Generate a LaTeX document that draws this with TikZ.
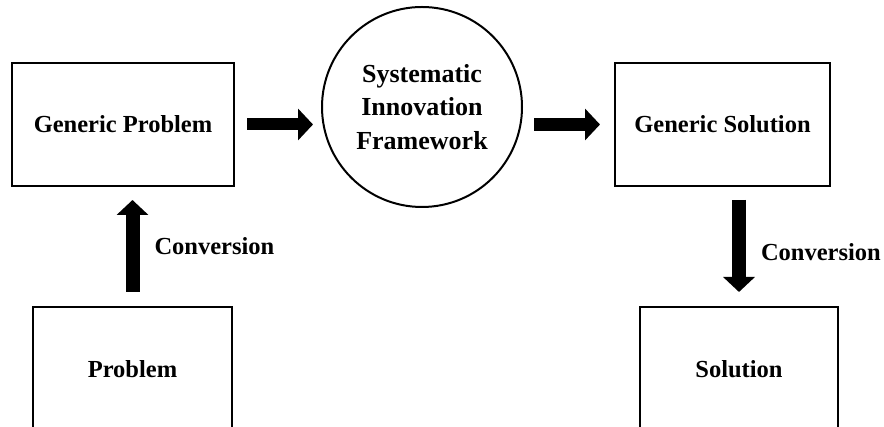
\documentclass[tikz,border=0pt]{standalone}
\usepackage{fontspec}
\setmainfont{Liberation Serif}
\usetikzlibrary{arrows.meta}

\tikzset{
  box/.style={draw, line width=2pt, minimum width=#1, minimum height=123pt, inner sep=0pt,
    font=\fontsize{24.5}{29}\selectfont\bfseries},
  hub/.style={draw, circle, line width=2pt, minimum size=200pt, inner sep=0pt, align=center,
    font=\fontsize{26}{33.5}\selectfont\bfseries},
  flow/.style={line width=#1, -{Triangle[length=15pt,width=31pt]}},
  lbl/.style={inner sep=0pt, outer sep=0pt, anchor=west, font=\fontsize{24.5}{29}\selectfont\bfseries}
}

\begin{document}
\begin{tikzpicture}[x=1pt,y=1pt]
    \clip (0,0) rectangle (884,427);
    \fill[white] (0,0) rectangle (884,427);
    % Boxes
    \node[box=222pt] (gp) at (123,302.5) {Generic Problem};
    \node[hub] (sif) at (422,320) {Systematic\\Innovation\\Framework};
    \node[box=215pt] (gs) at (722.5,302.5) {Generic Solution};
    \node[box=199pt, minimum height=124pt] (prob) at (132.5,58) {Problem};
    \node[box=198pt, minimum height=124pt] (sol) at (739,58) {Solution};
    % Arrows
    \draw[flow=12pt, shorten <=12pt, shorten >=8pt] (gp.east) -- (gp.east -| sif.west);
    \draw[flow=13pt, shorten <=11pt, shorten >=14pt] (sif.east |- gs.west) -- (gs.west);
    \draw[flow=14pt, shorten <=14pt, shorten >=13pt] (prob.north) -- (prob.north |- gp.south)
      node[lbl, midway, xshift=22pt] (conv1) {Conversion};
    \draw[flow=14pt, shorten <=13pt, shorten >=14pt] (gs.south -| sol.north) -- (sol.north)
      node[lbl, midway, xshift=22pt, yshift=-6pt] (conv2) {Conversion};
\end{tikzpicture}
\end{document}
